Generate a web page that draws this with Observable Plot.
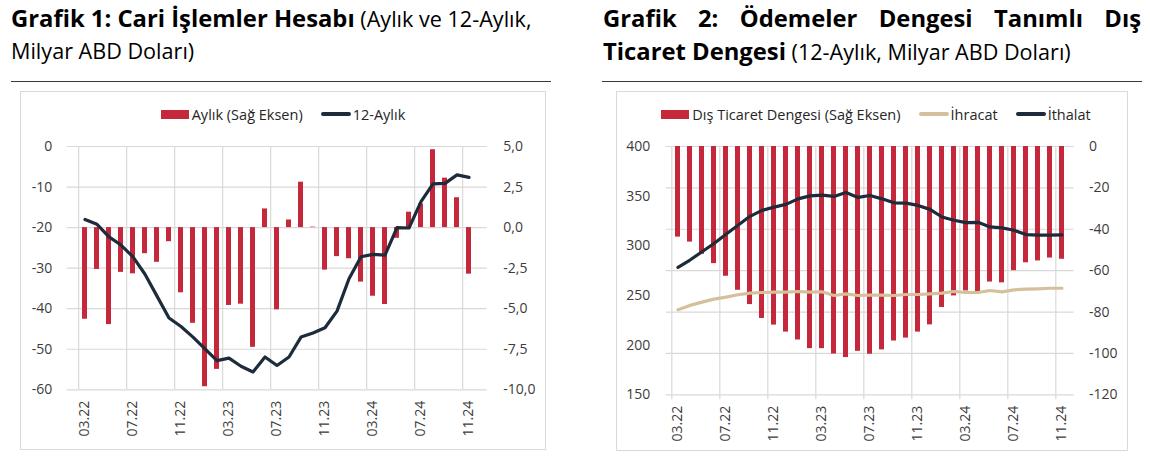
<!DOCTYPE html>
<html>
<head>
<meta charset="utf-8">
<script src="https://cdn.jsdelivr.net/npm/d3@7"></script>
<script src="https://cdn.jsdelivr.net/npm/@observablehq/plot@0.6"></script>
<style>
  html, body { margin: 0; padding: 0; background: #fff; }
  body { width: 1150px; height: 466px; position: relative; overflow: hidden; font-family: "Open Sans", sans-serif; color: #000; }
  .title { position: absolute; font-size: 21.6px; line-height: 32px; color: #000; }
  .title b { font-weight: 700; font-size: 23.8px; }
  .just { text-align: justify; text-align-last: justify; }
  .rule { position: absolute; height: 0; border-top: 1.6px solid #3a3a3a; }
  .box { position: absolute; border: 1.3px solid #d9d9d9; box-sizing: border-box; }
  .legend { position: absolute; display: flex; justify-content: center; align-items: center; font-size: 14.5px; color: #262626; gap: 18px; }
  .item { display: flex; align-items: center; }
  .sw-bar { width: 28px; height: 9px; margin-right: 3px; }
  .sw-line { width: 30px; height: 3.5px; border-radius: 2px; margin-right: 2px; }
  .plot { position: absolute; }
  .plot svg { display: block; }
</style>
</head>
<body>
<div class="title" style="left:11px; top:2px; width:560px;">
  <div style="white-space:nowrap"><b>Grafik 1: Cari İşlemler Hesabı</b> (Aylık ve 12-Aylık,</div>
  <div>Milyar ABD Doları)</div>
</div>
<div class="title" style="left:603px; top:2px; width:538px;">
  <div class="just"><b>Grafik 2: Ödemeler Dengesi Tanımlı Dış</b></div>
  <div style="white-space:nowrap"><b>Ticaret Dengesi</b> (12-Aylık, Milyar ABD Doları)</div>
</div>
<div class="rule" style="left:11px; top:81px; width:540px;"></div>
<div class="rule" style="left:602px; top:81px; width:540px;"></div>
<div class="box" style="left:20px; top:91px; width:526px; height:359px;"></div>
<div class="box" style="left:616px; top:91px; width:512px; height:360px;"></div>
<div class="legend" id="leg1" style="left:20px; top:104px; width:526px; height:20px;"></div>
<div class="legend" id="leg2" style="left:620px; top:104px; width:512px; height:20px;"></div>
<div class="plot" id="p1a" style="left:20px; top:130px;"></div>
<div class="plot" id="p1b" style="left:20px; top:130px;"></div>
<div class="plot" id="p2a" style="left:617px; top:130px;"></div>
<div class="plot" id="p2b" style="left:617px; top:130px;"></div>
<script>
// ---------- DATA ----------
const months = ["03.22","04.22","05.22","06.22","07.22","08.22","09.22","10.22","11.22","12.22",
  "01.23","02.23","03.23","04.23","05.23","06.23","07.23","08.23","09.23","10.23","11.23","12.23",
  "01.24","02.24","03.24","04.24","05.24","06.24","07.24","08.24","09.24","10.24","11.24"];
const tickMonths = ["03.22","07.22","11.22","03.23","07.23","11.23","03.24","07.24","11.24"];

// Grafik 1
const aylik = [-5.65,-2.58,-5.98,-2.76,-2.85,-1.61,-2.14,-0.87,-4.02,-5.90,-9.81,-8.74,-4.80,-4.72,-7.38,1.15,-5.07,0.47,2.80,0.03,-2.62,-1.79,-1.92,-3.36,-4.23,-4.74,-0.66,0.95,1.46,4.80,3.05,1.84,-2.87];
const onikiAylik = [-18.0,-19.2,-22.3,-24.3,-27.2,-31.5,-36.9,-42.3,-44.4,-47.0,-49.9,-52.8,-52.2,-54.2,-55.6,-51.9,-54.0,-51.9,-47.0,-46.0,-44.7,-40.6,-32.6,-27.2,-26.6,-26.8,-20.0,-20.1,-13.6,-9.2,-9.1,-7.0,-7.6];
const g1LeftTicks = [0,-10,-20,-30,-40,-50,-60];
const g1RightTicks = [5,2.5,0,-2.5,-5,-7.5,-10];

// Grafik 2
const disTicaret = [-43.8,-46.2,-52.1,-56.6,-62.7,-69.5,-76.4,-83.1,-86.3,-89.7,-93.5,-97.7,-97.7,-100.3,-102.0,-99.0,-100.4,-98.3,-94.0,-92.6,-89.7,-86.2,-77.8,-72.2,-69.8,-70.6,-65.5,-65.9,-60.0,-56.2,-55.3,-53.9,-54.5];
const ihracat = [235.7,240.0,243.3,246.3,248.3,250.7,252.3,253.0,253.3,253.3,254.0,253.3,253.7,250.0,251.7,250.0,250.3,250.3,250.0,251.0,251.0,251.7,252.3,254.0,253.0,253.0,255.0,253.7,255.7,256.3,256.7,257.3,257.3];
const ithalat = [278.3,285.7,294.0,302.3,311.7,320.7,329.7,335.7,339.0,341.7,347.3,350.3,351.0,349.7,353.7,348.7,350.7,347.3,343.3,343.0,340.7,336.7,329.0,325.7,323.3,323.7,319.0,318.0,315.7,311.3,310.7,310.7,311.0];
const g2LeftTicks = [400,350,300,250,200,150];
const g2RightTicks = [0,-20,-40,-60,-80,-100,-120];

// ---------- STYLE ----------
const RED = "#c4283a", NAVY = "#1d2b3b", TAN = "#d4c19c", GRID = "#d9d9d9", TXT = "#3c3c3c";
const font = {fontFamily: "'Open Sans', sans-serif", fontSize: "14px", color: TXT, background: "transparent", overflow: "visible"};
const fmtInt = d => (d < 0 ? "-" : "") + Math.abs(d);
const fmtDec = d => (d < 0 ? "-" : "") + Math.abs(d).toFixed(1).replace(".", ",");

const t1 = months.map((m, i) => ({m, aylik: aylik[i], oniki: onikiAylik[i]}));
const t2 = months.map((m, i) => ({m, dtd: disTicaret[i], ihr: ihracat[i], ith: ithalat[i]}));

function legend(el, items) {
  const L = document.getElementById(el);
  for (const it of items) {
    const d = document.createElement("div"); d.className = "item";
    const s = document.createElement("div");
    s.className = it.type === "bar" ? "sw-bar" : "sw-line";
    s.style.background = it.color;
    const t = document.createElement("span"); t.textContent = it.label;
    d.appendChild(s); d.appendChild(t); L.appendChild(d);
  }
}
legend("leg1", [{type:"bar", color: RED, label: "Aylık (Sağ Eksen)"}, {type:"line", color: NAVY, label: "12-Aylık"}]);
legend("leg2", [{type:"bar", color: RED, label: "Dış Ticaret Dengesi (Sağ Eksen)"}, {type:"line", color: TAN, label: "İhracat"}, {type:"line", color: NAVY, label: "İthalat"}]);

// ---------- GRAFIK 1 ----------
const W1 = 526, H1 = 315, ML1 = 46.7, MR1 = 59.2, MT1 = 16, MB1 = 55.7;
const step1 = (W1 - ML1 - MR1) / months.length;
const xBand1 = {type: "band", domain: months, paddingInner: 0.55, paddingOuter: 0.275};

const p1a = Plot.plot({
  width: W1, height: H1, marginLeft: ML1, marginRight: MR1, marginTop: MT1, marginBottom: MB1,
  style: font,
  x: {...xBand1, axis: null, label: null},
  y: {domain: [-10, 5], axis: null, label: null},
  marks: [
    Plot.ruleY(g1RightTicks, {stroke: GRID, strokeWidth: 1.2}),
    Plot.ruleX(tickMonths, {x: d => d, dx: -step1 / 2, stroke: GRID, strokeWidth: 1.2}),
    Plot.barY(t1, {x: "m", y: "aylik", fill: RED}),
    Plot.axisY(g1RightTicks, {anchor: "right", label: null, tickSize: 0, tickPadding: 16, tickFormat: fmtDec, fill: TXT}),
    Plot.axisX(tickMonths, {anchor: "bottom", label: null, tickSize: 0, tickPadding: 11, tickRotate: -90, fill: TXT})
  ]
});
document.getElementById("p1a").appendChild(p1a);

const p1b = Plot.plot({
  width: W1, height: H1, marginLeft: ML1, marginRight: MR1, marginTop: MT1, marginBottom: MB1,
  style: font,
  x: {...xBand1, axis: null, label: null},
  y: {domain: [-60, 0], axis: null, label: null},
  marks: [
    Plot.lineY(t1, {x: "m", y: "oniki", stroke: NAVY, strokeWidth: 3.2, strokeLinejoin: "round"}),
    Plot.axisY(g1LeftTicks, {anchor: "left", label: null, tickSize: 0, tickPadding: 15, tickFormat: fmtInt, fill: TXT})
  ]
});
document.getElementById("p1b").appendChild(p1b);

// ---------- GRAFIK 2 ----------
const W2 = 511, H2 = 315, ML2 = 48.7, MR2 = 54.4, MT2 = 16, MB2 = 50.7;
const step2 = (W2 - ML2 - MR2) / months.length;
const xBand2 = {type: "band", domain: months, paddingInner: 0.55, paddingOuter: 0.275};

const p2a = Plot.plot({
  width: W2, height: H2, marginLeft: ML2, marginRight: MR2, marginTop: MT2, marginBottom: MB2,
  style: font,
  x: {...xBand2, axis: null, label: null},
  y: {domain: [-120, 0], axis: null, label: null},
  marks: [
    Plot.ruleY(g2RightTicks, {stroke: GRID, strokeWidth: 1.2}),
    Plot.ruleX(tickMonths, {x: d => d, dx: -step2 / 2, stroke: GRID, strokeWidth: 1.2, insetBottom: -5}),
    Plot.barY(t2, {x: "m", y: "dtd", fill: RED}),
    Plot.axisY(g2RightTicks, {anchor: "right", label: null, tickSize: 0, tickPadding: 15, tickFormat: fmtInt, fill: TXT}),
    Plot.axisX(tickMonths, {anchor: "bottom", label: null, tickSize: 0, tickPadding: 11, tickRotate: -90, fill: TXT})
  ]
});
document.getElementById("p2a").appendChild(p2a);

const p2b = Plot.plot({
  width: W2, height: H2, marginLeft: ML2, marginRight: MR2, marginTop: MT2, marginBottom: MB2,
  style: font,
  x: {...xBand2, axis: null, label: null},
  y: {domain: [150, 400], axis: null, label: null},
  marks: [
    Plot.lineY(t2, {x: "m", y: "ihr", stroke: TAN, strokeWidth: 3.2, strokeLinejoin: "round"}),
    Plot.lineY(t2, {x: "m", y: "ith", stroke: NAVY, strokeWidth: 3.2, strokeLinejoin: "round"}),
    Plot.axisY(g2LeftTicks, {anchor: "left", label: null, tickSize: 0, tickPadding: 16, tickFormat: fmtInt, fill: TXT})
  ]
});
document.getElementById("p2b").appendChild(p2b);
</script>
</body>
</html>
